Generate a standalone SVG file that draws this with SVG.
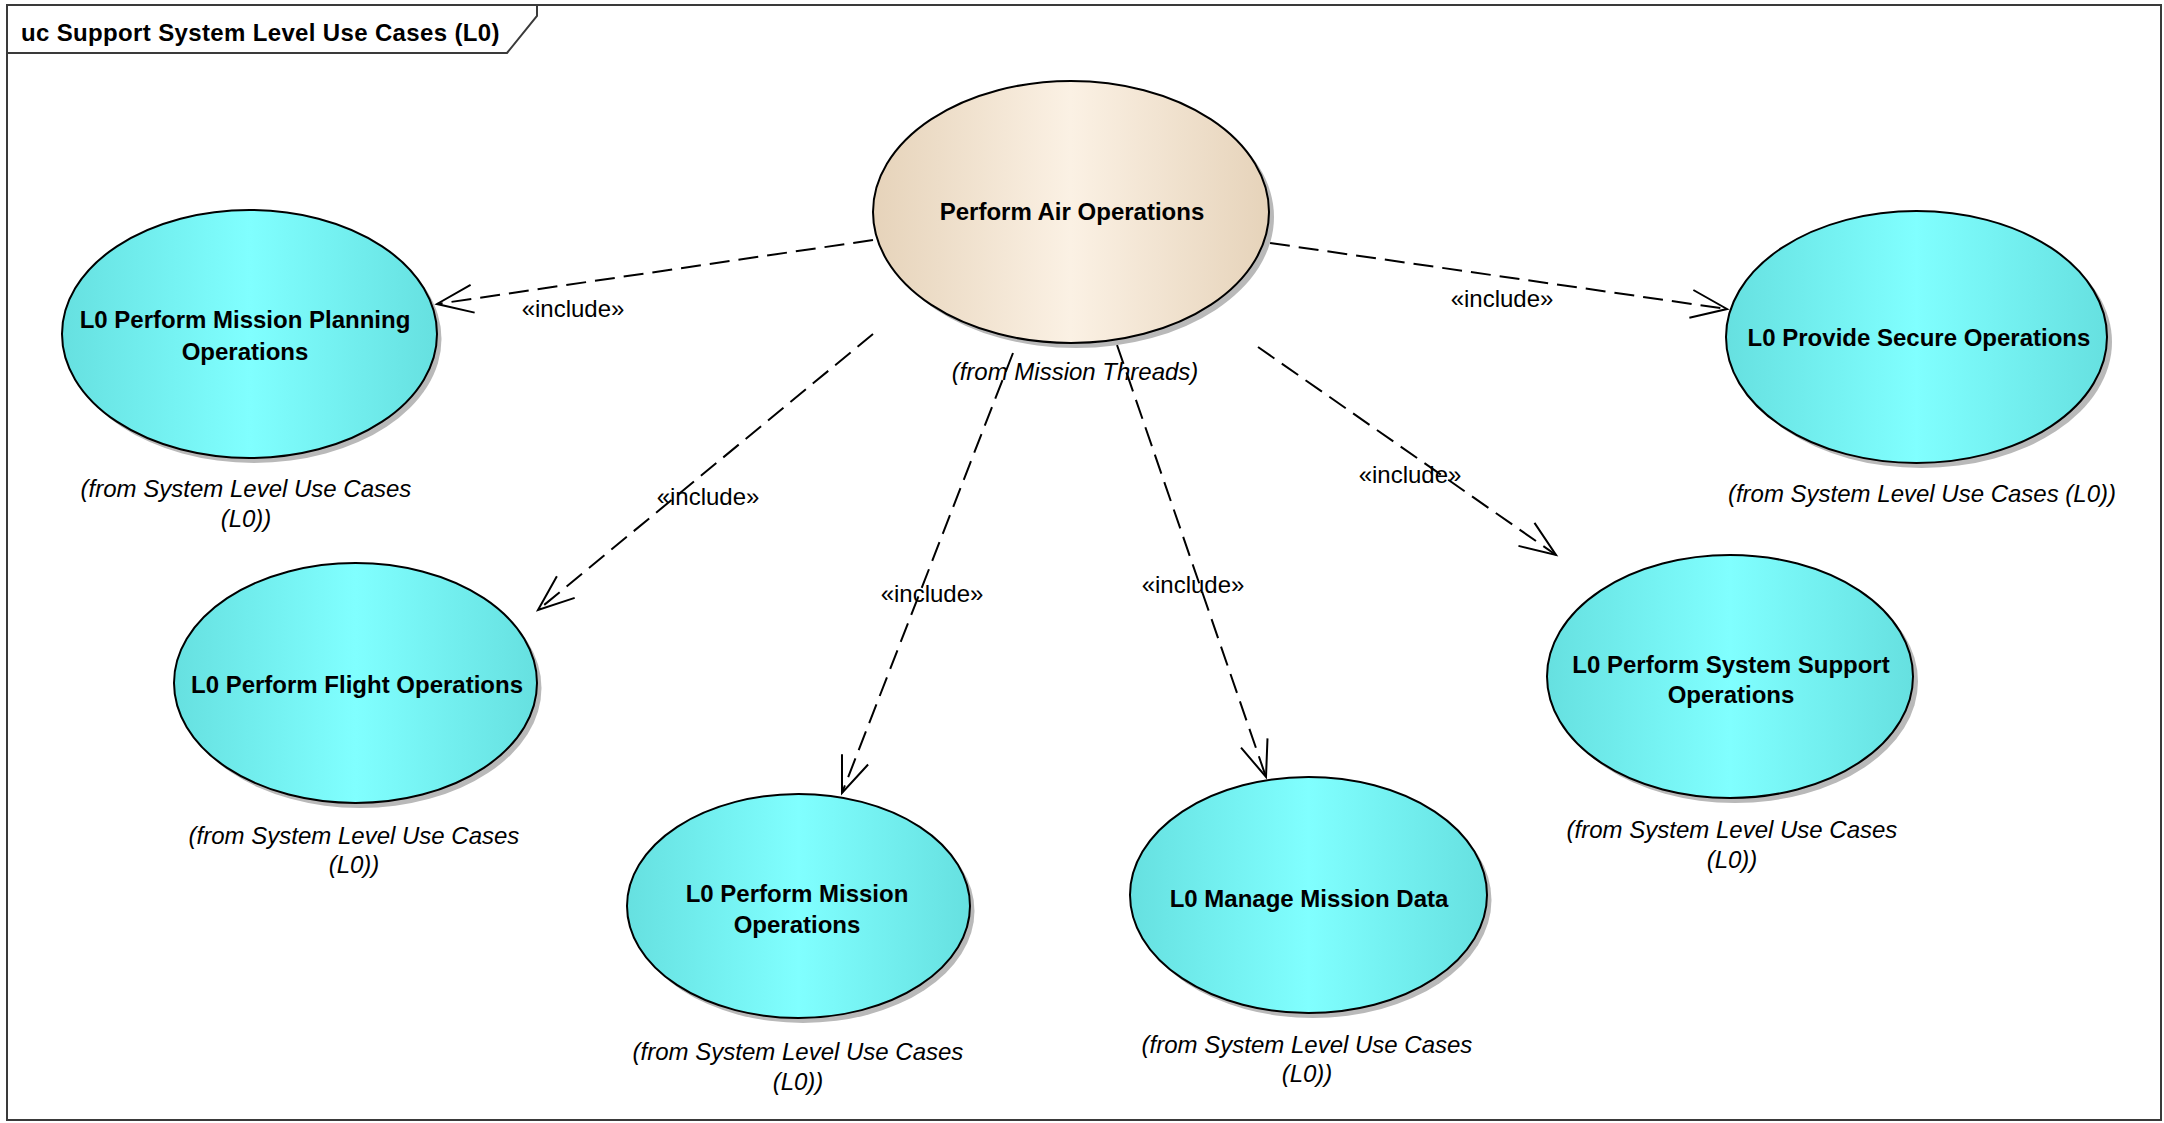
<svg xmlns="http://www.w3.org/2000/svg" width="2164" height="1123" viewBox="0 0 2164 1123">
  <style>
    .frame { fill: none; stroke: #3a3a3a; stroke-width: 2; }
    .uc { stroke: #000; stroke-width: 2; }
    .shadow { fill: #b9b9b9; }
    .name { font-family: "Liberation Sans", Arial, sans-serif; font-weight: bold; font-size: 24px; fill: #000; text-anchor: middle; }
    .from { font-family: "Liberation Sans", Arial, sans-serif; font-style: italic; font-size: 24px; fill: #000; text-anchor: middle; }
    .title { font-family: "Liberation Sans", Arial, sans-serif; font-weight: bold; font-size: 24px; letter-spacing: 0.35px; fill: #000; }
    .inc { fill: none; stroke: #000; stroke-width: 2; stroke-dasharray: 20 9; marker-end: url(#openArrow); }
    .stereo { font-family: "Liberation Sans", Arial, sans-serif; font-size: 24px; fill: #000; text-anchor: middle; }
  </style>
  <defs>
    <linearGradient id="cyanFill" x1="0" y1="0" x2="1" y2="0">
      <stop offset="0" stop-color="#66E0E0"/>
      <stop offset="0.5" stop-color="#80FFFF"/>
      <stop offset="1" stop-color="#66E0E0"/>
    </linearGradient>
    <linearGradient id="tanFill" x1="0" y1="0" x2="1" y2="0">
      <stop offset="0" stop-color="#E6D3BA"/>
      <stop offset="0.5" stop-color="#FBF1E4"/>
      <stop offset="1" stop-color="#E6D3BA"/>
    </linearGradient>
    <marker id="openArrow" markerUnits="userSpaceOnUse" markerWidth="50" markerHeight="40" refX="0" refY="0" viewBox="-40 -20 44 40" orient="auto" overflow="visible">
      <path d="M -36 -14 L 0 0 L -36 14" fill="none" stroke="#000" stroke-width="2" stroke-dasharray="none"/>
    </marker>
  </defs>

  <rect x="0" y="0" width="2164" height="1123" fill="#fff"/>

  <!-- diagram frame with its name tab -->
  <g id="frame">
    <rect class="frame" x="7" y="5" width="2154" height="1115"/>
    <path class="frame" d="M 7 53 H 507 L 537 16 V 5"/>
    <text class="title" x="21" y="41">uc Support System Level Use Cases (L0)</text>
  </g>

  <!-- include dependencies -->
  <g id="connectors">
    <path class="inc" d="M 873 240 L 437 304"/>
    <path class="inc" d="M 873 334 L 538 610"/>
    <path class="inc" d="M 1013 353 L 842 793"/>
    <path class="inc" d="M 1117 345 L 1266 777"/>
    <path class="inc" d="M 1258 347 L 1556 555"/>
    <path class="inc" d="M 1270 243 L 1727 309"/>
    <text class="stereo" x="573" y="317">«include»</text>
    <text class="stereo" x="708" y="505">«include»</text>
    <text class="stereo" x="932" y="602">«include»</text>
    <text class="stereo" x="1193" y="593">«include»</text>
    <text class="stereo" x="1410" y="483">«include»</text>
    <text class="stereo" x="1502" y="307">«include»</text>
  </g>

  <g id="perform-air-operations">
    <ellipse class="shadow" cx="1076" cy="217" rx="198" ry="131"/>
    <ellipse class="uc" cx="1071" cy="212" rx="198" ry="131" fill="url(#tanFill)"/>
    <text class="name" x="1072" y="220">Perform Air Operations</text>
    <text class="from" x="1075" y="380">(from Mission Threads)</text>
  </g>

  <g id="mission-planning">
    <ellipse class="shadow" cx="254" cy="339" rx="187.5" ry="124"/>
    <ellipse class="uc" cx="249.5" cy="334" rx="187.5" ry="124" fill="url(#cyanFill)"/>
    <text class="name" x="245" y="328">L0 Perform Mission Planning</text>
    <text class="name" x="245" y="360">Operations</text>
    <text class="from" x="246" y="497">(from System Level Use Cases</text>
    <text class="from" x="246" y="527">(L0))</text>
  </g>

  <g id="flight-operations">
    <ellipse class="shadow" cx="360" cy="688" rx="181.5" ry="120"/>
    <ellipse class="uc" cx="355.5" cy="683" rx="181.5" ry="120" fill="url(#cyanFill)"/>
    <text class="name" x="357" y="693">L0 Perform Flight Operations</text>
    <text class="from" x="354" y="844">(from System Level Use Cases</text>
    <text class="from" x="354" y="873">(L0))</text>
  </g>

  <g id="mission-operations">
    <ellipse class="shadow" cx="803" cy="911" rx="171.5" ry="112"/>
    <ellipse class="uc" cx="798.5" cy="906" rx="171.5" ry="112" fill="url(#cyanFill)"/>
    <text class="name" x="797" y="902">L0 Perform Mission</text>
    <text class="name" x="797" y="933">Operations</text>
    <text class="from" x="798" y="1060">(from System Level Use Cases</text>
    <text class="from" x="798" y="1090">(L0))</text>
  </g>

  <g id="manage-mission-data">
    <ellipse class="shadow" cx="1313" cy="900" rx="178.5" ry="118"/>
    <ellipse class="uc" cx="1308.5" cy="895" rx="178.5" ry="118" fill="url(#cyanFill)"/>
    <text class="name" x="1309" y="907">L0 Manage Mission Data</text>
    <text class="from" x="1307" y="1053">(from System Level Use Cases</text>
    <text class="from" x="1307" y="1082">(L0))</text>
  </g>

  <g id="system-support">
    <ellipse class="shadow" cx="1735" cy="681.5" rx="183" ry="121.5"/>
    <ellipse class="uc" cx="1730" cy="676.5" rx="183" ry="121.5" fill="url(#cyanFill)"/>
    <text class="name" x="1731" y="673">L0 Perform System Support</text>
    <text class="name" x="1731" y="703">Operations</text>
    <text class="from" x="1732" y="838">(from System Level Use Cases</text>
    <text class="from" x="1732" y="868">(L0))</text>
  </g>

  <g id="secure-operations">
    <ellipse class="shadow" cx="1921.5" cy="342" rx="190.5" ry="126"/>
    <ellipse class="uc" cx="1916.5" cy="337" rx="190.5" ry="126" fill="url(#cyanFill)"/>
    <text class="name" x="1919" y="346">L0 Provide Secure Operations</text>
    <text class="from" x="1922" y="502">(from System Level Use Cases (L0))</text>
  </g>
</svg>
